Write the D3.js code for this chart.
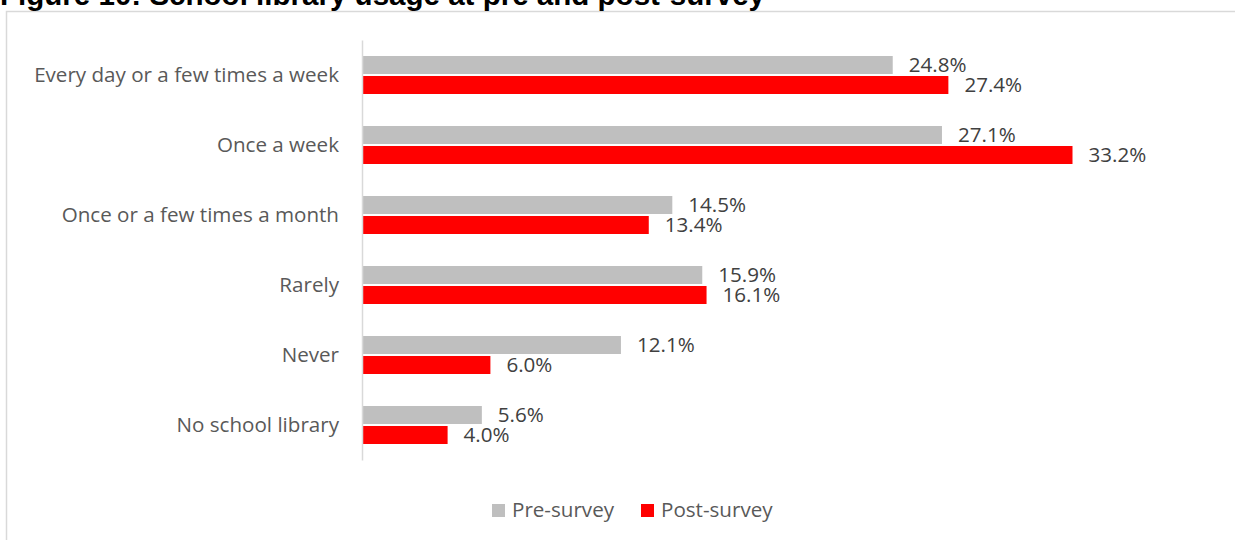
<!DOCTYPE html>
<html><head><meta charset="utf-8">
<script src="https://cdn.jsdelivr.net/npm/d3@7"></script>
<style>body{margin:0;background:#fff}svg{display:block}</style>
</head><body>
<svg id="c" width="1235" height="540"></svg>
<script>
const categories = ["Every day or a few times a week","Once a week","Once or a few times a month","Rarely","Never","No school library"];
const preSurvey = [24.8, 27.1, 14.5, 15.9, 12.1, 5.6];
const postSurvey = [27.4, 33.2, 13.4, 16.1, 6.0, 4.0];
const seriesNames = ["Pre-survey","Post-survey"];
const colors = ["#BFBFBF","#FF0000"];
const title = "Figure 10: School library usage at pre and post-survey";

const svg = d3.select("#c");
const font = "'Open Sans', sans-serif";
const fs = 20.6;

svg.append("rect").attr("x",6.5).attr("y",11.5).attr("width",1240).attr("height",540)
  .attr("fill","#fff").attr("stroke","#D9D9D9").attr("stroke-width",1.5);

const t = svg.append("text").attr("x",0).attr("y",5).text(title)
  .attr("font-family","'Liberation Sans', Arial, sans-serif").attr("font-weight","bold")
  .attr("font-size",29).attr("fill","#000");
t.attr("textLength",765).attr("lengthAdjust","spacingAndGlyphs");

const x0 = 362;
const x = d3.scaleLinear().domain([0, 33.2]).range([x0, 1072.5]);
const y = d3.scaleBand().domain(categories).range([40, 460]);
const inner = d3.scaleBand().domain(seriesNames).range([16, 54]).paddingInner(0.1);

const data = categories.map((c,i)=>({c, vals:[preSurvey[i], postSurvey[i]]}));

const g = svg.append("g");
const grp = g.selectAll("g.grp").data(data).join("g").attr("transform", d=>`translate(0,${y(d.c)})`);
grp.selectAll("rect").data(d=>d.vals.map((v,j)=>({v,j}))).join("rect")
  .attr("x", x(0)).attr("y", d=>inner(seriesNames[d.j]))
  .attr("width", d=>x(d.v)-x(0)).attr("height", inner.bandwidth())
  .attr("fill", d=>colors[d.j]);
grp.selectAll("text.val").data(d=>d.vals.map((v,j)=>({v,j}))).join("text").attr("class","val")
  .attr("x", d=>x(d.v)+16).attr("y", d=>inner(seriesNames[d.j])+inner.bandwidth()/2+1)
  .attr("dominant-baseline","middle")
  .attr("font-family",font).attr("font-size",fs).attr("fill","#404040")
  .text(d=>d.v.toFixed(1)+"%");

const yAxis = d3.axisLeft(y).tickSize(0).tickPadding(23);
const ya = svg.append("g").attr("transform",`translate(${x0},0)`).call(yAxis);
ya.select(".domain").attr("stroke","#D9D9D9").attr("stroke-width",1.5);
ya.selectAll("text").attr("font-family",font).attr("font-size",fs).attr("fill","#595959");

const leg = svg.append("g");
const legX = [492, 641];
seriesNames.forEach((s,i)=>{
  leg.append("rect").attr("x",legX[i]).attr("y",504).attr("width",13).attr("height",13).attr("fill",colors[i]);
  leg.append("text").attr("x",legX[i]+20).attr("y",511).attr("dominant-baseline","middle")
    .attr("font-family",font).attr("font-size",fs).attr("fill","#595959").text(s);
});
</script>
</body></html>
